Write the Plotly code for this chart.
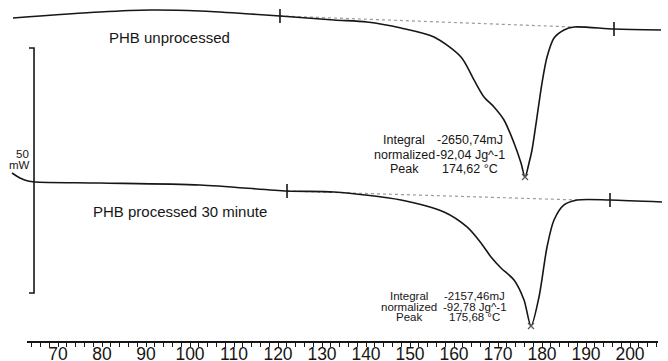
import plotly.graph_objects as go

# ---- data (temperature in °C, heat flow in mW, arbitrary offset) ----
t_unproc = [59.77, 79.55, 90.91, 102.27, 113.64, 120.45, 132.73, 140.23, 147.95, 155.45,
            161.59, 164.55, 166.82, 169.09, 171.36, 173.64, 175.23, 176.14, 177.05, 177.73,
            178.86, 180.00, 181.14, 182.73, 185.00, 187.27, 196.36, 207.05]
hf_unproc = [65.92, 67.14, 67.55, 67.35, 66.73, 66.33, 65.51, 65.10, 63.88, 62.04,
             57.96, 53.27, 49.80, 47.76, 45.10, 40.41, 36.33, 33.47, 36.33, 38.98,
             45.71, 52.65, 57.96, 61.84, 63.47, 64.08, 63.67, 63.47]

t_proc = [59.55, 61.36, 63.18, 64.77, 79.55, 102.27, 122.05, 132.73, 147.95, 157.73,
          162.95, 166.14, 168.41, 170.68, 173.64, 175.91, 177.50, 179.32, 181.14, 182.73,
          185.00, 187.95, 195.45, 207.27]
hf_proc = [34.29, 33.27, 32.65, 32.45, 32.24, 31.84, 30.61, 30.41, 28.78, 26.33,
           23.27, 20.00, 17.14, 14.90, 12.45, 8.37, 3.06, 8.98, 19.18, 24.69,
           27.76, 28.78, 28.78, 28.37]

# integration limits and baselines
lim_unproc_t = [120.45, 196.36]
lim_unproc_hf = [66.33, 63.67]
lim_proc_t = [122.05, 195.45]
lim_proc_hf = [30.61, 28.78]
base_unproc_t = [120.45, 187.27]
base_unproc_hf = [66.33, 64.08]
base_proc_t = [122.05, 187.95]
base_proc_hf = [30.61, 28.78]

peak_t = [176.14, 177.50]
peak_hf = [33.47, 3.06]

scale_bar_mw = 50
scale_bar_t = 64.55
scale_bar_bottom = 9.80

tick_vals = list(range(64, 207, 2))
tick_text = [str(v) if v % 10 == 0 and v >= 70 else "" for v in tick_vals]

labels = ["Integral", "normalized", "Peak"]
values_unproc = ["-2650,74mJ", "-92,04 Jg^-1", "174,62 °C"]
values_proc = ["-2157,46mJ", "-92,78 Jg^-1", "175,68 °C"]

FONT = "Liberation Sans, Arial, Helvetica, sans-serif"
INK = "#161616"

fig = go.Figure()

for bt, bh in [(base_unproc_t, base_unproc_hf), (base_proc_t, base_proc_hf)]:
    fig.add_trace(go.Scatter(x=bt, y=bh, mode="lines",
                             line=dict(color="#9a9a9a", width=1.2, dash="dot"),
                             hoverinfo="skip", showlegend=False))

for tt, hh in [(t_unproc, hf_unproc), (t_proc, hf_proc)]:
    fig.add_trace(go.Scatter(x=tt, y=hh, mode="lines",
                             line=dict(color=INK, width=1.6, shape="spline", smoothing=0.8),
                             showlegend=False))

for lt, lh in [(lim_unproc_t, lim_unproc_hf), (lim_proc_t, lim_proc_hf)]:
    fig.add_trace(go.Scatter(x=lt, y=lh, mode="markers",
                             marker=dict(symbol="line-ns-open", size=10, color=INK,
                                         line=dict(color=INK, width=1.6)),
                             showlegend=False))

# scale bar (50 mW)
sb_top = scale_bar_bottom + scale_bar_mw
fig.add_trace(go.Scatter(
    x=[scale_bar_t - 1.14, scale_bar_t, scale_bar_t, scale_bar_t - 1.14],
    y=[sb_top, sb_top, scale_bar_bottom, scale_bar_bottom],
    mode="lines", line=dict(color=INK, width=1.6), showlegend=False))

# peak markers on the axis subplot
fig.add_trace(go.Scatter(x=peak_t, y=peak_hf, mode="markers", xaxis="x2", yaxis="y2",
                         marker=dict(symbol="x-thin-open", size=6, color="#555",
                                     line=dict(color="#555", width=1.2)),
                         cliponaxis=False, showlegend=False))

yr = [0, 69.59]
fig.update_layout(
    width=668, height=361,
    margin=dict(l=0, r=0, t=0, b=20),
    paper_bgcolor="white", plot_bgcolor="rgba(0,0,0,0)",
    font=dict(family=FONT, color=INK),
    xaxis=dict(domain=[0, 1], range=[56.818, 208.636], visible=False),
    yaxis=dict(domain=[0, 1], range=yr, visible=False),
    xaxis2=dict(domain=[27 / 668, 658 / 668], range=[62.9545, 206.3636], anchor="y2",
                tickvals=tick_vals, ticktext=tick_text, ticks="outside", ticklen=4,
                tickwidth=1.3, tickcolor=INK, showline=True, linewidth=1.6, linecolor=INK,
                showgrid=False, zeroline=False, automargin=False, ticklabelstandoff=-8,
                tickfont=dict(size=17.5, family=FONT, color=INK)),
    yaxis2=dict(domain=[0, 1], range=yr, anchor="x2", visible=False),
)

ann = []
ann.append(dict(x=95.45, y=61.84, text="PHB unprocessed", font=dict(size=15)))
ann.append(dict(x=97.73, y=26.33, text="PHB processed 30 minute", font=dict(size=15)))
ann.append(dict(x=61.82, y=38.2, text="50", font=dict(size=11.5)))
ann.append(dict(x=61.36, y=36.0, text="mW", font=dict(size=11.5)))
ann.append(dict(x=205.0, y=-2.0, text="°C", font=dict(size=17.5)))

rows1 = [41.0, 38.0, 35.2]
for lab, val, yy in zip(labels, values_unproc, rows1):
    ann.append(dict(x=148.64, y=yy, text=lab, font=dict(size=12.5)))
    ann.append(dict(x=163.64, y=yy, text=val, font=dict(size=12.5)))
rows2 = [9.1, 6.94, 4.8]
for lab, val, yy in zip(labels, values_proc, rows2):
    ann.append(dict(x=149.77, y=yy, text=lab, font=dict(size=11.5)))
    ann.append(dict(x=164.77, y=yy, text=val, font=dict(size=11.5)))

for a in ann:
    a.update(xref="x", yref="y", showarrow=False, xanchor="center", yanchor="middle")
    a["font"].update(family=FONT, color=INK)
fig.update_layout(annotations=ann)

fig.write_html("out.html")
